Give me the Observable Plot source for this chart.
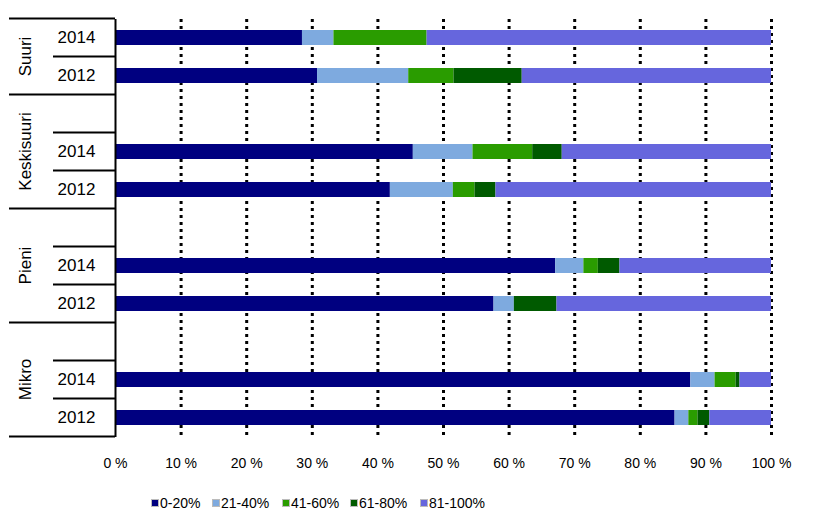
<!DOCTYPE html>
<html>
<head>
<meta charset="utf-8">
<script src="https://cdn.jsdelivr.net/npm/d3@7"></script>
<script src="https://cdn.jsdelivr.net/npm/@observablehq/plot@0.6"></script>
<style>
  html, body { margin: 0; padding: 0; background: #fff; }
  body { width: 816px; height: 532px; overflow: hidden; font-family: "Liberation Sans", Arial, sans-serif; }
  #legend { position: relative; height: 40px; font-size: 14px; color: #000; }
  .item { position: absolute; top: 10px; display: flex; align-items: center; white-space: nowrap; }
  .sw { width: 8px; height: 8px; margin-right: 1px; border: 0.5px solid #bbb; box-sizing: border-box; }
</style>
</head>
<body>
<div id="chart"></div>
<div id="legend"></div>
<script>
// ---- data ----
const groups = ["Suuri", "Keskisuuri", "Pieni", "Mikro"];
const years = ["2014", "2012"];
const categories = ["0-20%", "21-40%", "41-60%", "61-80%", "81-100%"];
const colors = ["#000080", "#7eaadf", "#2a9c00", "#005a00", "#6666dd"];
const xTicks = [0, 10, 20, 30, 40, 50, 60, 70, 80, 90, 100];

const suuri2014 = [28.5, 4.8, 14.2, 0, 52.5];
const suuri2012 = [30.8, 13.9, 6.9, 10.4, 38.0];
const keskisuuri2014 = [45.4, 9.1, 9.1, 4.5, 31.9];
const keskisuuri2012 = [41.9, 9.6, 3.3, 3.2, 42.0];
const pieni2014 = [67.1, 4.3, 2.2, 3.3, 23.1];
const pieni2012 = [57.7, 3.1, 0, 6.5, 32.7];
const mikro2014 = [87.7, 3.7, 3.2, 0.6, 4.8];
const mikro2012 = [85.3, 2.1, 1.4, 1.8, 9.4];

const series = {
  "Suuri|2014": suuri2014, "Suuri|2012": suuri2012,
  "Keskisuuri|2014": keskisuuri2014, "Keskisuuri|2012": keskisuuri2012,
  "Pieni|2014": pieni2014, "Pieni|2012": pieni2012,
  "Mikro|2014": mikro2014, "Mikro|2012": mikro2012
};

// slots: first group has no blank row, the others start with an empty row
const slots = [];
groups.forEach((g, gi) => {
  if (gi > 0) slots.push(g + "|");
  years.forEach(y => slots.push(g + "|" + y));
});

const rows = [];
Object.entries(series).forEach(([slot, vals]) => {
  vals.forEach((v, i) => rows.push({slot, cat: categories[i], value: v}));
});
const yearRows = Object.keys(series).map(slot => ({slot, year: slot.split("|")[1]}));

// ---- chart ----
const W = 816, H = 485, ML = 115, MR = 45, MT = 19, MB = 48;
const plot = Plot.plot({
  width: W, height: H,
  marginLeft: ML, marginRight: MR, marginTop: MT, marginBottom: MB,
  style: {fontFamily: "'Liberation Sans', Arial, sans-serif", background: "#fff", color: "#000"},
  x: {domain: [0, 100], axis: null},
  y: {domain: slots, paddingInner: 0.6, paddingOuter: 0.3, axis: null},
  color: {domain: categories, range: colors},
  marks: [
    Plot.ruleX(xTicks.slice(1), {stroke: "#000", strokeWidth: 3, strokeDasharray: "3,4"}),
    Plot.barX(rows, Plot.stackX({x: "value", y: "slot", fill: "cat", order: categories})),
    Plot.ruleX([0], {stroke: "#000", strokeWidth: 2}),
    Plot.axisX({ticks: xTicks, tickFormat: d => d + " %", tickSize: 0, tickPadding: 21, fontSize: 14, label: null}),
    Plot.text(yearRows, {y: "slot", text: "year", frameAnchor: "left", dx: -39, textAnchor: "middle", fontSize: 17, fill: "#000"})
  ]
});
document.getElementById("chart").appendChild(plot);

// ---- category axis separators and group labels ----
const ys = plot.scale("y");
const center = s => ys.apply(s) + ys.bandwidth / 2;
const step = ys.step;
const svg = d3.select(plot);
const g = svg.append("g").attr("stroke", "#000").attr("stroke-width", 2);
const axisX = ML - 1;
function hline(y, x1) {
  g.append("line").attr("x1", x1).attr("x2", axisX + 1).attr("y1", y).attr("y2", y);
}
groups.forEach((gr, gi) => {
  const mine = slots.filter(s => s.startsWith(gr + "|"));
  const top = center(mine[0]) - step / 2;
  const bottom = center(mine[mine.length - 1]) + step / 2;
  hline(top, 9);
  if (gi === groups.length - 1) hline(bottom, 9);
  for (let i = 1; i < mine.length; i++) hline(center(mine[i]) - step / 2, 53);
  svg.append("text")
    .attr("transform", `translate(25,${(top + bottom) / 2}) rotate(-90)`)
    .attr("text-anchor", "middle").attr("dominant-baseline", "central")
    .attr("font-size", 17).attr("fill", "#000").text(gr);
});

// ---- legend ----
const legend = document.getElementById("legend");
const legendX = [151, 212, 282, 350, 420];
categories.forEach((c, i) => {
  const it = document.createElement("div");
  it.className = "item";
  it.style.left = legendX[i] + "px";
  it.innerHTML = `<span class="sw" style="background:${colors[i]}"></span><span>${c}</span>`;
  legend.appendChild(it);
});
</script>
</body>
</html>
